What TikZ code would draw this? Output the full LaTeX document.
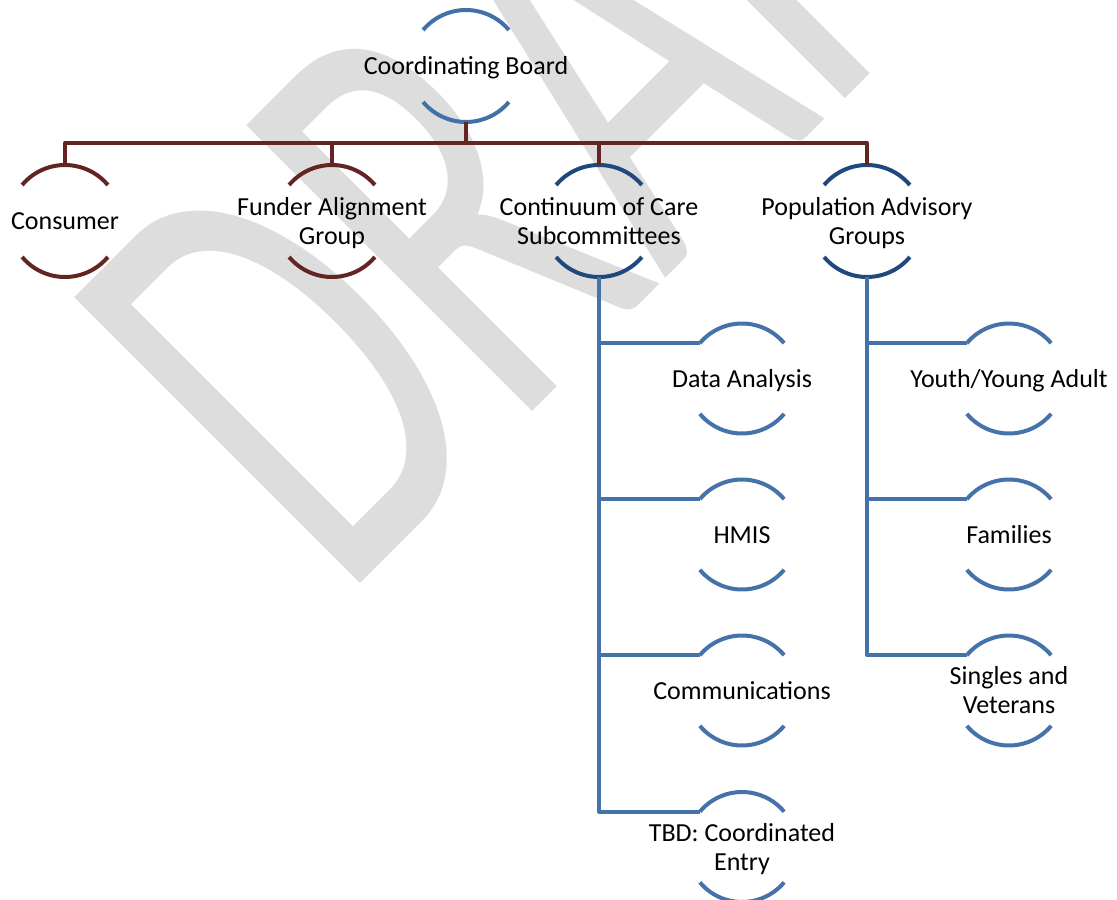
\documentclass[tikz,border=0pt]{standalone}
\usepackage{fontspec}
\setmainfont{Carlito}
\definecolor{maroon}{HTML}{632523}
\definecolor{topblue}{HTML}{4270A8}
\definecolor{navy}{HTML}{1F497D}
\definecolor{subblue}{HTML}{4672AA}
\definecolor{wm}{HTML}{DDDDDD}
\newcommand\ls{\rule[-5pt]{0pt}{27pt}}
\newcommand\halfarcs[3]{%
  \draw[arcline,#2] ([shift={(140:#3)}]#1.center) arc[start angle=140,end angle=40,radius=#3];
  \draw[arcline,#2] ([shift={(220:#3)}]#1.center) arc[start angle=220,end angle=320,radius=#3];}
\begin{document}
\begin{tikzpicture}[x=1pt,y=1pt,
  lbl/.style={align=center,inner sep=0pt,font=\fontsize{26}{29}\selectfont},
  arcline/.style={line width=4pt},
  conn/.style={line width=4pt,line join=round}]
\useasboundingbox (0,0) rectangle (1117,-900);
% watermark
\node[anchor=base west,inner sep=0pt,rotate=45,xscale=0.627,text=wm,
      font=\fontsize{630}{630}\selectfont] (wmk) at (341,-603) {DRAFT};
% nodes
\node[lbl] (cb)  at (466,-66)  {\ls Coordinating Board};
\node[lbl] (con) at (65,-221)  {\ls Consumer};
\node[lbl] (fun) at (332,-221) {\ls Funder Alignment\\\ls Group};
\node[lbl] (coc) at (599,-221) {\ls Continuum of Care\\\ls Subcommittees};
\node[lbl] (pop) at (867,-221) {\ls Population Advisory\\\ls Groups};
\node[lbl] (da)  at (742,-378.5) {\ls Data Analysis};
\node[lbl] (hm)  at (742,-534.5) {\ls HMIS};
\node[lbl] (cm)  at (742,-690.5) {\ls Communications};
\node[lbl] (tbd) at (742,-847) {\ls TBD: Coordinated\\\ls Entry};
\node[lbl] (yy)  at (1009,-378.5) {\ls Youth/Young Adult};
\node[lbl] (fa)  at (1009,-534.5) {\ls Families};
\node[lbl] (sv)  at (1009,-690.5) {\ls Singles and\\\ls Veterans};
% arcs
\halfarcs{cb}{topblue}{56}
\halfarcs{con}{maroon}{56}
\halfarcs{fun}{maroon}{56}
\halfarcs{coc}{navy}{56}
\halfarcs{pop}{navy}{56}
\foreach \n in {da,hm,cm,tbd,yy,fa,sv}{\halfarcs{\n}{subblue}{55}}
% connectors
\coordinate (bar) at (0,-143);
\draw[conn,maroon] ([yshift=-56pt]cb.center) -- (cb.center |- bar);
\draw[conn,maroon] ([yshift=56pt]con.center) -- (con.center |- bar) -- (pop.center |- bar) -- ([yshift=56pt]pop.center);
\draw[conn,maroon] (fun.center |- bar) -- ([yshift=56pt]fun.center);
\draw[conn,maroon] (coc.center |- bar) -- ([yshift=56pt]coc.center);
\foreach \n in {da,hm,cm,tbd,yy,fa,sv}{\coordinate (\n-in) at ([shift={(140:55)}]\n.center);}
\draw[conn,subblue] ([yshift=-56pt]coc.center) -- (coc.center |- tbd-in) -- (tbd-in);
\foreach \n in {da,hm,cm}{\draw[conn,subblue] (coc.center |- \n-in) -- (\n-in);}
\draw[conn,subblue] ([yshift=-56pt]pop.center) -- (pop.center |- sv-in) -- (sv-in);
\foreach \n in {yy,fa}{\draw[conn,subblue] (pop.center |- \n-in) -- (\n-in);}
\end{tikzpicture}
\end{document}
